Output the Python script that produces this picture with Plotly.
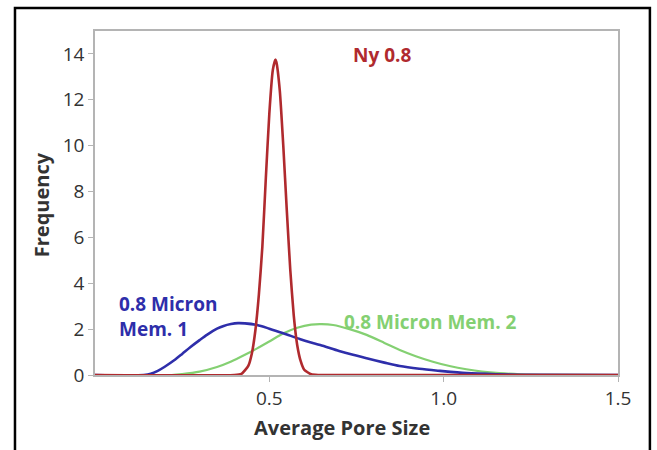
import plotly.graph_objects as go

# Ny 0.8 (red)
ny_x = [0.00, 0.40, 0.42, 0.44, 0.45, 0.46, 0.47, 0.48, 0.49, 0.50, 0.51, 0.517,
        0.52, 0.53, 0.54, 0.55, 0.56, 0.57, 0.58, 0.59, 0.60, 0.62, 0.64, 1.50]
ny_y = [0.00, 0.00, 0.05, 0.41, 0.95, 1.95, 3.50, 5.60, 8.60, 11.40, 13.30, 13.75,
        13.65, 12.40, 10.00, 7.20, 4.60, 2.60, 1.30, 0.60, 0.23, 0.03, 0.00, 0.00]

# 0.8 Micron Mem. 1 (blue)
m1_x = [0.00, 0.14, 0.16, 0.18, 0.20, 0.227, 0.25, 0.274, 0.30, 0.322, 0.35, 0.369,
        0.39, 0.41, 0.43, 0.465, 0.50, 0.54, 0.589, 0.617, 0.646, 0.70, 0.74, 0.779,
        0.83, 0.874, 0.93, 0.989, 1.065, 1.15, 1.25, 1.50]
m1_y = [0.00, 0.00, 0.05, 0.18, 0.36, 0.64, 0.92, 1.22, 1.52, 1.76, 2.02, 2.14,
        2.22, 2.26, 2.25, 2.18, 2.02, 1.82, 1.56, 1.43, 1.31, 1.05, 0.88, 0.73,
        0.54, 0.39, 0.27, 0.18, 0.08, 0.03, 0.005, 0.00]

# 0.8 Micron Mem. 2 (green)
m2_x = [0.00, 0.22, 0.25, 0.30, 0.35, 0.389, 0.43, 0.465, 0.50, 0.541, 0.58, 0.62,
        0.65, 0.683, 0.73, 0.779, 0.83, 0.874, 0.92, 0.969, 1.02, 1.065, 1.11, 1.16,
        1.22, 1.30, 1.50]
m2_y = [0.00, 0.00, 0.04, 0.15, 0.35, 0.58, 0.88, 1.16, 1.46, 1.82, 2.06, 2.20,
        2.22, 2.18, 2.00, 1.75, 1.40, 1.09, 0.82, 0.58, 0.38, 0.25, 0.15, 0.08,
        0.03, 0.005, 0.00]

x_ticks = [0.5, 1.0, 1.5]
x_tick_labels = ["0.5", "1.0", "1.5"]
y_ticks = [0, 2, 4, 6, 8, 10, 12, 14]
y_tick_labels = ["0", "2", "4", "6", "8", "10", "12", "14"]

RED = "#b02a2e"
BLUE = "#2e2eaa"
GREEN = "#84d072"
FONT = "Open Sans"
TXT = "#333333"

fig = go.Figure()
fig.add_trace(go.Scatter(x=m2_x, y=m2_y, mode="lines",
                         line=dict(color=GREEN, width=2.2, shape="spline", smoothing=0.8)))
fig.add_trace(go.Scatter(x=m1_x, y=m1_y, mode="lines",
                         line=dict(color=BLUE, width=2.6, shape="spline", smoothing=0.8)))
fig.add_trace(go.Scatter(x=ny_x, y=ny_y, mode="lines",
                         line=dict(color=RED, width=2.6, shape="spline", smoothing=0.5)))

fig.add_annotation(x=0.823, y=13.97, text="<b>Ny 0.8</b>", showarrow=False,
                   font=dict(family=FONT, size=19, color=RED), xanchor="center", yanchor="middle")
fig.add_annotation(x=0.063, y=2.55, text="<b>0.8 Micron<br>Mem. 1</b>", showarrow=False, align="left",
                   font=dict(family=FONT, size=19, color=BLUE), xanchor="left", yanchor="middle")
fig.add_annotation(x=0.707, y=2.31, text="<b>0.8 Micron Mem. 2</b>", showarrow=False,
                   font=dict(family=FONT, size=19, color=GREEN), xanchor="left", yanchor="middle")

# axis titles
fig.add_annotation(xref="paper", yref="paper", x=0.472, y=-0.154, text="<b>Average Pore Size</b>",
                   showarrow=False, font=dict(family=FONT, size=20, color=TXT),
                   xanchor="center", yanchor="middle")
fig.add_annotation(xref="paper", yref="paper", x=-0.103, y=0.494, text="<b>Frequency</b>",
                   showarrow=False, textangle=-90, font=dict(family=FONT, size=20, color=TXT),
                   xanchor="center", yanchor="middle")

# outer black frame
fig.add_shape(type="rect", xref="paper", yref="paper", x0=-0.153, x1=1.061, y0=-0.25, y1=1.067,
              line=dict(color="black", width=2.5), layer="above")

fig.update_layout(
    width=657, height=450,
    margin=dict(l=95, r=39, t=31, b=75, autoexpand=False),
    paper_bgcolor="white", plot_bgcolor="white",
    showlegend=False,
    font=dict(family=FONT, color=TXT),
    xaxis=dict(range=[0, 1.5], tickvals=x_ticks, ticktext=x_tick_labels,
               showgrid=False, zeroline=False, showline=True, linecolor="#b4b4b4", linewidth=1.5,
               mirror=True, ticks="outside", ticklen=5, tickcolor="#b4b4b4", automargin=False,
               tickfont=dict(family=FONT, size=19, color=TXT)),
    yaxis=dict(range=[0, 15], tickvals=y_ticks, ticktext=y_tick_labels,
               showgrid=False, zeroline=False, showline=True, linecolor="#b4b4b4", linewidth=1.5,
               mirror=True, ticks="outside", ticklen=5, tickcolor="#b4b4b4", automargin=False,
               tickfont=dict(family=FONT, size=19, color=TXT)),
)

fig.write_html("out.html", config={"displayModeBar": False},
               post_script="document.body.style.margin='0px';")
